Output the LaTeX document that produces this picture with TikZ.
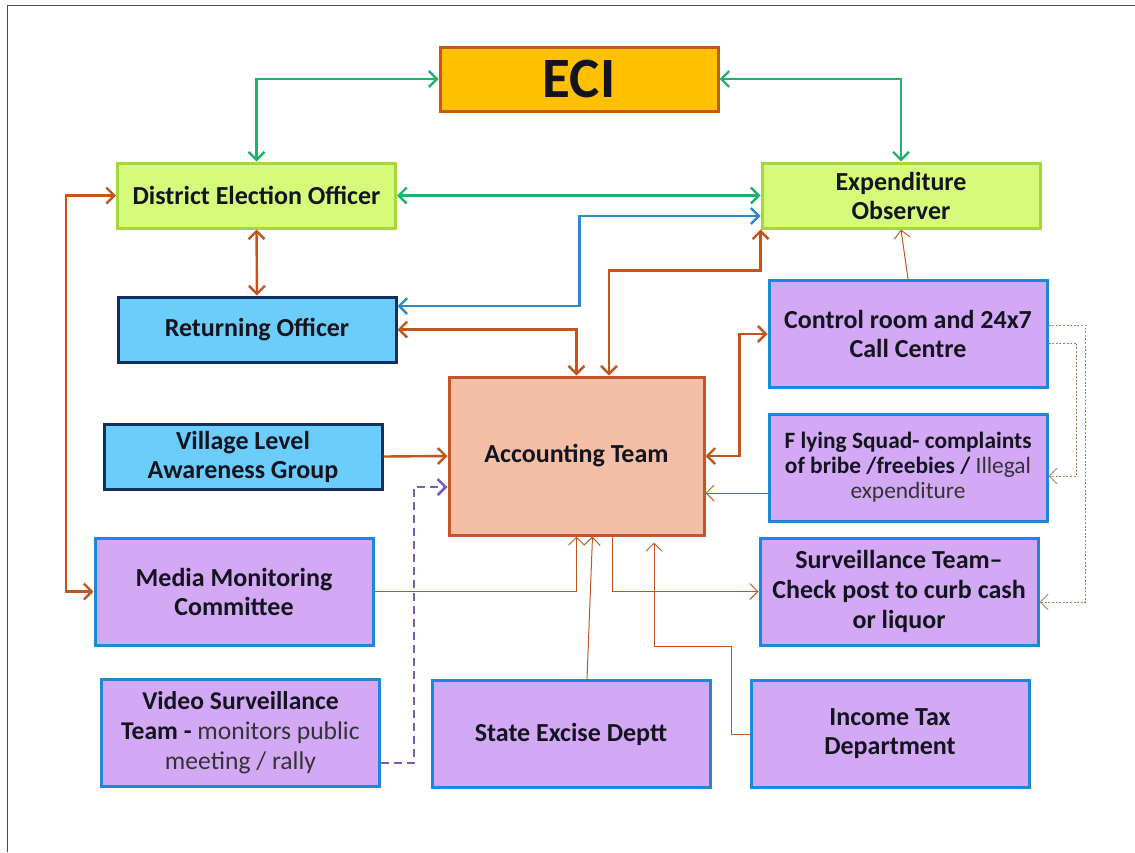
\documentclass[tikz,border=0pt]{standalone}
\usepackage{fontspec}
\setmainfont{Carlito}
\usepackage{tikz}
\usetikzlibrary{arrows.meta, positioning}
\definecolor{ecifill}{HTML}{FFC000}
\definecolor{ecidraw}{HTML}{C55A11}
\definecolor{limefill}{HTML}{D6FB7B}
\definecolor{limedraw}{HTML}{A6D63C}
\definecolor{skyfill}{HTML}{6ACDFB}
\definecolor{skydraw}{HTML}{12305E}
\definecolor{accfill}{HTML}{F4BFA6}
\definecolor{accdraw}{HTML}{C0562A}
\definecolor{lilacfill}{HTML}{D3A9F6}
\definecolor{lilacdraw}{HTML}{1E88D8}
\definecolor{greenline}{HTML}{22B06A}
\definecolor{blueline}{HTML}{2E8BC9}
\definecolor{brownline}{HTML}{C0561E}
\definecolor{purpleline}{HTML}{8058B8}
\definecolor{tanline}{HTML}{B0805A}
\definecolor{inkcol}{HTML}{14141F}
\tikzset{>={Straight Barb[length=4pt,width=8pt]}}
\tikzset{
	box/.style={draw, line width=1.5pt, minimum width=139pt, minimum height=32.5pt, align=center, text=inkcol,
		font=\fontsize{13}{14.5}\selectfont\bfseries},
	tallbox/.style={box, minimum height=53.5pt},
	limebox/.style={box, fill=limefill, draw=limedraw},
	skybox/.style={box, fill=skyfill, draw=skydraw},
	lilacbox/.style={tallbox, fill=lilacfill, draw=lilacdraw},
	greenarrow/.style={greenline, line width=1.2pt},
	bluearrow/.style={blueline, line width=1.2pt},
	brownarrow/.style={brownline, line width=1.2pt},
	brownthin/.style={brownline, line width=0.5pt},
	purpledash/.style={purpleline, line width=1.3pt, dash pattern=on 4pt off 2.5pt},
	tandots/.style={tanline, line width=0.5pt, dash pattern=on 1pt off 0.8pt}
}
\newcommand{\plain}[1]{{\mdseries\color{black!80}#1}}

\begin{document}
\begin{tikzpicture}[x=0.5pt, y=-0.5pt]
	\useasboundingbox (0,0) rectangle (1135,852);
	\draw[black!70, line width=0.5pt] (7,852) -- (7,5) -- (1135,5);

	\node[box, fill=ecifill, draw=ecidraw, minimum height=32pt, font=\fontsize{28.5}{32}\selectfont\bfseries] (eci) at (579,79) {ECI};
	\node[limebox] (deo) at (256.5,195.5) {District Election Officer};
	\node[limebox] (eo) at (901,195.5) {Expenditure\\Observer};
	\node[skybox] (ro) at (257,329.5) {Returning Officer};
	\node[skybox] (vlag) at (243,456.5) {Village Level\\Awareness Group};
	\node[box, fill=accfill, draw=accdraw, minimum width=127.5pt, minimum height=79pt] (acc) at (576.5,456) {Accounting Team};
	\node[lilacbox] (ctrl) at (908,334) {Control room and 24x7\\Call Centre};
	\node[lilacbox, font=\fontsize{11.7}{12.5}\selectfont\bfseries] (fly) at (908,467.5) {F lying Squad- complaints\\of bribe /freebies / \plain{Illegal}\\\plain{expenditure}};
	\node[lilacbox, font=\fontsize{13}{15}\selectfont\bfseries] (surv) at (899,591.5) {Surveillance Team--\\Check post to curb cash\\or liquor};
	\node[lilacbox] (media) at (234,591.5) {Media Monitoring\\Committee};
	\node[lilacbox, font=\fontsize{12.8}{15}\selectfont\bfseries] (video) at (240.5,733) {Video Surveillance\\Team - \plain{monitors public}\\\plain{meeting / rally}};
	\node[lilacbox] (excise) at (571,734) {State Excise Deptt};
	\node[lilacbox] (itax) at (890,734) {Income Tax\\Department};

	\draw[greenarrow, <->] (deo.north) |- (eci.west);
	\draw[greenarrow, <->] (eci.east) -| (eo.north);
	\draw[greenarrow, <->] (deo.east) -- (eo.west);
	\draw[bluearrow, <->] ([yshift=11.75pt]ro.east) -- ++(182,0) |- ([yshift=-10.25pt]eo.west);
	\draw[brownarrow, <->] (deo.south) -- (ro.north);
	\draw[brownarrow, <->] (ro.east) -| (acc.north);
	\draw[brownarrow, <->] ([xshift=16.25pt]acc.north) -- ++(0,-105) -| (eo.south west);
	\draw[brownarrow, <->] (acc.east) -- ++(34,0) |- (ctrl.west);
	\draw[brownarrow, <->] (deo.west) -- ++(-50,0) |- (media.west);
	\draw[brownarrow, ->] (vlag.east) -- (acc.west);
	\draw[purpledash, ->] ([yshift=-15pt]video.east) -- ++(33,0) |- ([yshift=-15.5pt]acc.west);
	\draw[brownthin, ->] (ctrl.north) -- (eo.south);
	\draw[brownthin, ->] ([yshift=-12.75pt]fly.west) -- ([yshift=-12.75pt]fly.west -| acc.east);
	\draw[brownthin, ->] (media.east) -| (acc.south);
	\draw[brownthin, ->] ([xshift=8pt]excise.north) -- ([xshift=8pt]acc.south);
	\draw[brownthin, ->] ([xshift=17.75pt]acc.south) |- (surv.west);
	\draw[brownthin, ->] (itax.west) -- ++(-18,0) -- ++(0,-88) -| ([xshift=38.75pt,yshift=-3pt]acc.south);
	\draw[tandots, ->] ([yshift=4.5pt]ctrl.east) -- ++(37,0) |- ([yshift=-5.25pt]surv.east);
	\draw[tandots, ->] ([yshift=-4.5pt]ctrl.east) -- ++(28,0) |- ([yshift=-4.25pt]fly.east);
\end{tikzpicture}
\end{document}
